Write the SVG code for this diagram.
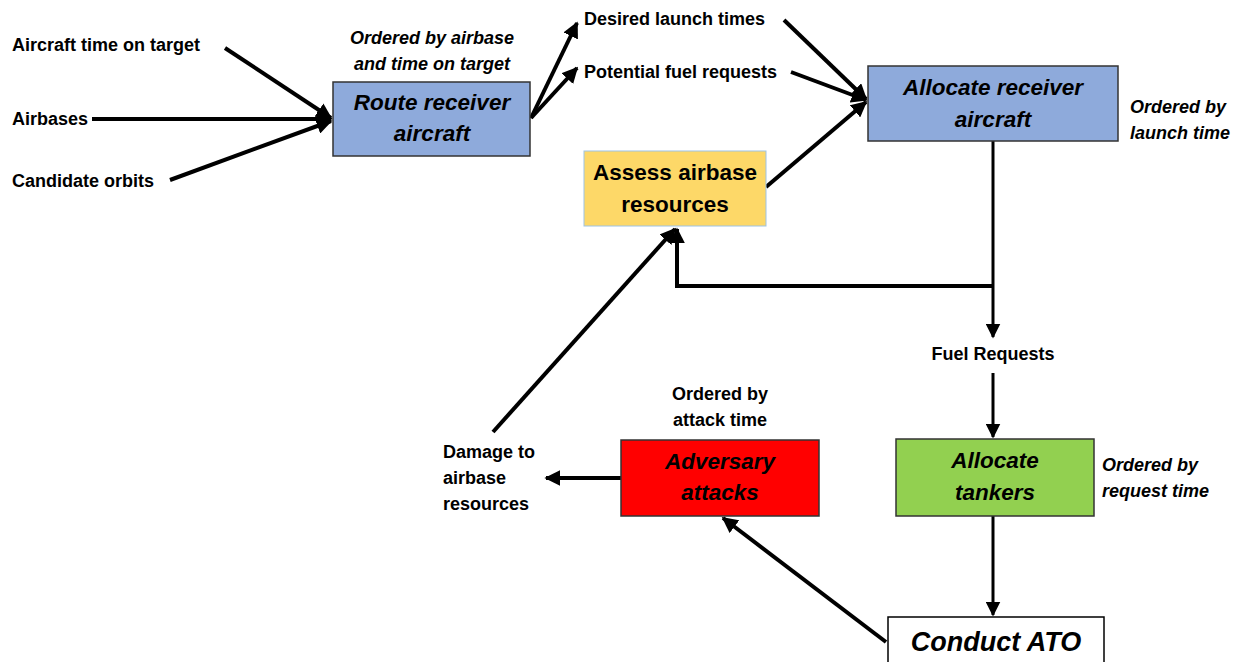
<svg xmlns="http://www.w3.org/2000/svg" width="1245" height="662" viewBox="0 0 1245 662">
<style>
text{font-family:"Liberation Sans",Arial,sans-serif;font-weight:bold;fill:#000}
.lbl{font-size:18px}
.it{font-style:italic}
.nd{font-size:22.5px}
.c{text-anchor:middle}
.ln{stroke:#000;stroke-width:4;fill:none}
.thin{stroke:#000;stroke-width:3;fill:none}
</style>
<defs>
<marker id="ah" viewBox="0 0 10 10" refX="9" refY="5" markerWidth="4" markerHeight="4" orient="auto" markerUnits="strokeWidth">
<path d="M0,0 L10,5 L0,10 z" fill="#000"/>
</marker>
<marker id="ah2" viewBox="0 0 10 10" refX="9" refY="5" markerWidth="5" markerHeight="5" orient="auto" markerUnits="strokeWidth">
<path d="M0,0 L10,5 L0,10 z" fill="#000"/>
</marker>
</defs>
<rect width="1245" height="662" fill="#fff"/>
<g id="connectors">
<line class="ln" x1="225" y1="48" x2="331" y2="118" marker-end="url(#ah)"/>
<line class="ln" x1="92" y1="119" x2="331" y2="119" marker-end="url(#ah)"/>
<line class="ln" x1="170" y1="180" x2="331" y2="121" marker-end="url(#ah)"/>
<line class="ln" x1="531" y1="118" x2="577" y2="23" marker-end="url(#ah)"/>
<line class="ln" x1="531" y1="118" x2="577" y2="68" marker-end="url(#ah)"/>
<line class="ln" x1="784" y1="20" x2="866" y2="99" marker-end="url(#ah)"/>
<line class="ln" x1="791" y1="72" x2="866" y2="100" marker-end="url(#ah)"/>
<line class="ln" x1="766" y1="187" x2="866" y2="102" marker-end="url(#ah)"/>
<line class="thin" x1="993" y1="141" x2="993" y2="337" marker-end="url(#ah2)"/>
<polyline class="ln" points="993,286 677,286 677,229" marker-end="url(#ah)"/>
<line class="thin" x1="993" y1="373" x2="993" y2="437" marker-end="url(#ah2)"/>
<line class="thin" x1="993" y1="516" x2="993" y2="615" marker-end="url(#ah2)"/>
<line class="ln" x1="886" y1="642" x2="723" y2="518" marker-end="url(#ah)"/>
<line class="ln" x1="621" y1="478" x2="546" y2="478" marker-end="url(#ah)"/>
<line class="ln" x1="493" y1="432" x2="675" y2="229" marker-end="url(#ah)"/>
</g>
<g id="labels">
<text class="lbl" x="12" y="51">Aircraft time on target</text>
<text class="lbl" x="12" y="125">Airbases</text>
<text class="lbl" x="12" y="187">Candidate orbits</text>
<text class="lbl it c" x="432" y="44">Ordered by airbase</text>
<text class="lbl it c" x="432" y="70">and time on target</text>
<text class="lbl" x="584" y="25">Desired launch times</text>
<text class="lbl" x="584" y="78">Potential fuel requests</text>
<text class="lbl it" x="1130" y="113">Ordered by</text>
<text class="lbl it" x="1130" y="139">launch time</text>
<text class="lbl c" x="993" y="360">Fuel Requests</text>
<text class="lbl c" x="720" y="400">Ordered by</text>
<text class="lbl c" x="720" y="426">attack time</text>
<text class="lbl it" x="1102" y="471">Ordered by</text>
<text class="lbl it" x="1102" y="497">request time</text>
<text class="lbl" x="443" y="458">Damage to</text>
<text class="lbl" x="443" y="484">airbase</text>
<text class="lbl" x="443" y="510">resources</text>
</g>
<g id="route">
<rect x="333" y="82" width="197" height="74" fill="#8eaadb" stroke="#333" stroke-width="1.5"/>
<text class="nd it c" x="432" y="110">Route receiver</text>
<text class="nd it c" x="432" y="141">aircraft</text>
</g>
<g id="allocate-receiver">
<rect x="868" y="66" width="250" height="75" fill="#8eaadb" stroke="#333" stroke-width="1.5"/>
<text class="nd it c" x="993" y="95">Allocate receiver</text>
<text class="nd it c" x="993" y="127">aircraft</text>
</g>
<g id="assess">
<rect x="584" y="151" width="182" height="75" fill="#fdd868" stroke="#9dc3e6" stroke-width="1"/>
<text class="nd c" x="675" y="180">Assess airbase</text>
<text class="nd c" x="675" y="212">resources</text>
</g>
<g id="tankers">
<rect x="896" y="439" width="198" height="77" fill="#92d050" stroke="#333" stroke-width="1.5"/>
<text class="nd it c" x="995" y="468">Allocate</text>
<text class="nd it c" x="995" y="500">tankers</text>
</g>
<g id="adversary">
<rect x="621" y="440" width="198" height="76" fill="#ff0000" stroke="#333" stroke-width="1.5"/>
<text class="nd it c" x="720" y="469">Adversary</text>
<text class="nd it c" x="720" y="500">attacks</text>
</g>
<g id="ato">
<rect x="888" y="617" width="216" height="60" fill="#fff" stroke="#000" stroke-width="1.5"/>
<text class="it c" style="font-size:27px" x="996" y="651">Conduct ATO</text>
</g>
</svg>
